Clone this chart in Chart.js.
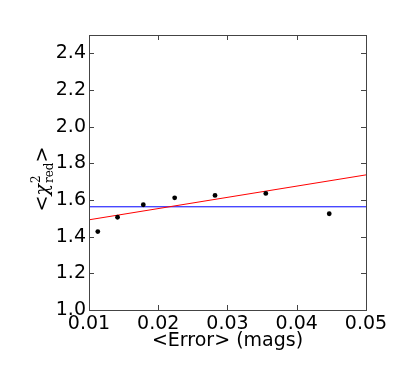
<!DOCTYPE html>
<html>
<head>
<meta charset="utf-8">
<script src="https://cdn.jsdelivr.net/npm/chart.js@4.4.1/dist/chart.umd.min.js"></script>
<style>
  html, body { margin: 0; padding: 0; background: #fff; }
</style>
</head>
<body>
<canvas id="chiChart" width="407" height="366"></canvas>
<script>
// mean error per bin vs mean reduced chi-square
var errMags = [0.01127, 0.01412, 0.01784, 0.02237, 0.0282, 0.03553, 0.04469];
var chiRed = [1.428, 1.506, 1.574, 1.612, 1.625, 1.636, 1.525];
// linear fit (red) and overall mean (blue)
var fitX = [0.01, 0.05];
var fitY = [1.492, 1.737];
var meanChi = 1.563;
var xTicks = [0.01, 0.02, 0.03, 0.04, 0.05];
var yTicks = [1.0, 1.2, 1.4, 1.6, 1.8, 2.0, 2.2, 2.4];
var xTitle = '<Error> (mags)';

var frameTicks = {
  id: 'frameTicks',
  afterDraw: function(chart) {
    var ctx = chart.ctx, a = chart.chartArea;
    var xs = chart.scales.x, ys = chart.scales.y;
    var len = 5;
    ctx.save();
    ctx.strokeStyle = '#444';
    ctx.lineWidth = 1;
    ctx.beginPath();
    xTicks.forEach(function(v) {
      var px = Math.round(xs.getPixelForValue(v)) + 0.5;
      ctx.moveTo(px, a.bottom); ctx.lineTo(px, a.bottom - len);
      ctx.moveTo(px, a.top); ctx.lineTo(px, a.top + len);
    });
    yTicks.forEach(function(v) {
      var py = Math.round(ys.getPixelForValue(v)) + 0.5;
      ctx.moveTo(a.left, py); ctx.lineTo(a.left + len, py);
      ctx.moveTo(a.right, py); ctx.lineTo(a.right - len, py);
    });
    ctx.stroke();
    ctx.strokeRect(a.left + 0.5, a.top + 0.5, a.right - a.left, a.bottom - a.top);

    // y axis title: <chi^2_red>
    var big = '19px "DejaVu Sans"';
    var chiFont = 'italic 19px "DejaVu Serif"';
    var small = '12px "DejaVu Serif"';
    ctx.fillStyle = '#000';
    ctx.textBaseline = 'alphabetic';
    ctx.textAlign = 'left';
    ctx.font = big;
    var wl = ctx.measureText('<').width;
    ctx.font = chiFont;
    var wc = ctx.measureText('\u03c7').width;
    ctx.font = small;
    var wr = ctx.measureText('red').width;
    var total = wl + wc + wr + wl + 1;
    ctx.translate(48, 179);
    ctx.rotate(-Math.PI / 2);
    var p = -total / 2;
    ctx.font = big; ctx.fillText('<', p, 0); p += wl;
    ctx.font = chiFont; ctx.fillText('\u03c7', p, 0); p += wc + 1;
    ctx.font = small;
    ctx.fillText('2', p, -8);
    ctx.fillText('red', p, 5);
    p += wr;
    ctx.font = big; ctx.fillText('>', p, 0);
    ctx.restore();
  }
};

var canvas = document.getElementById('chiChart');
var ctx = canvas.getContext('2d');
var chiChart = new Chart(ctx, {
  type: 'scatter',
  data: {
    datasets: [{
      label: 'bins',
      data: errMags.map(function(x, i) { return { x: x, y: chiRed[i] }; }),
      backgroundColor: '#000',
      borderColor: '#000',
      pointRadius: 2.4,
      borderWidth: 0,
      order: 0
    }, {
      label: 'fit',
      type: 'line',
      data: fitX.map(function(x, i) { return { x: x, y: fitY[i] }; }),
      borderColor: '#ff0000',
      borderWidth: 1,
      pointRadius: 0,
      fill: false,
      order: 1
    }, {
      label: 'mean',
      type: 'line',
      data: fitX.map(function(x) { return { x: x, y: meanChi }; }),
      borderColor: '#0000ff',
      borderWidth: 1,
      pointRadius: 0,
      fill: false,
      order: 2
    }]
  },
  options: {
    responsive: false,
    animation: false,
    layout: { padding: { left: 0, right: 41, top: 35, bottom: 0 } },
    plugins: {
      legend: { display: false },
      tooltip: { enabled: false }
    },
    scales: {
      x: {
        type: 'linear',
        min: 0.01, max: 0.05,
        grid: { display: false, drawTicks: false },
        border: { display: false },
        afterBuildTicks: function(s) { s.ticks = xTicks.map(function(v) { return { value: v }; }); },
        afterFit: function(s) { s.height = 56; },
        ticks: {
          autoSkip: false,
          maxRotation: 0,
          padding: 3,
          color: '#000',
          font: { family: 'DejaVu Sans', size: 19 },
          callback: function(v) { return v.toFixed(2); }
        },
        title: {
          display: true,
          text: xTitle,
          color: '#000',
          padding: { top: 0, bottom: 14 },
          font: { family: 'DejaVu Sans', size: 19 }
        }
      },
      y: {
        type: 'linear',
        min: 1.0, max: 2.5,
        grid: { display: false, drawTicks: false },
        border: { display: false },
        afterBuildTicks: function(s) { s.ticks = yTicks.map(function(v) { return { value: v }; }); },
        afterFit: function(s) { s.width = 89; },
        ticks: {
          autoSkip: false,
          padding: 3,
          color: '#000',
          font: { family: 'DejaVu Sans', size: 19 },
          callback: function(v) { return v.toFixed(1); }
        }
      }
    }
  },
  plugins: [frameTicks]
});
</script>
</body>
</html>
